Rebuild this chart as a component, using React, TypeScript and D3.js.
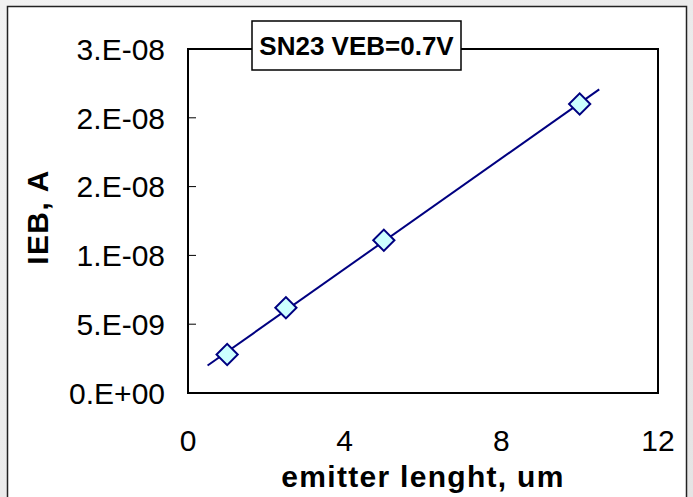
import React from "react";
import * as d3 from "d3";

const lengths = [1, 2.5, 5, 10];
const currents = [2.8e-9, 6.2e-9, 11.1e-9, 21.0e-9];
const yTicks = [0, 5e-9, 1e-8, 1.5e-8, 2e-8, 2.5e-8];
const yTickLabels = ["0.E+00", "5.E-09", "1.E-08", "2.E-08", "2.E-08", "3.E-08"];
const xTicks = [0, 4, 8, 12];
const trendRange = [0.5, 10.5];
const title = "SN23 VEB=0.7V";
const xTitle = "emitter lenght, um";
const yTitle = "IEB, A";

export default function App() {
  const W = 693, H = 497;
  const m = { left: 188, right: 658, top: 49, bottom: 393 };
  const x = d3.scaleLinear().domain([0, 12]).range([m.left, m.right]);
  const y = d3.scaleLinear().domain([0, 2.5e-8]).range([m.bottom, m.top]);

  // linear regression trendline
  const mx = d3.mean(lengths)!;
  const my = d3.mean(currents)!;
  const sxy = d3.sum(lengths.map((v, i) => (v - mx) * (currents[i] - my)));
  const sxx = d3.sum(lengths.map((v) => (v - mx) ** 2));
  const slope = sxy / sxx;
  const icpt = my - slope * mx;
  const trend = trendRange.map((v) => [v, icpt + slope * v] as [number, number]);
  const line = d3.line<[number, number]>().x((d) => x(d[0])).y((d) => y(d[1]));

  const font = "'Liberation Sans', Arial, sans-serif";
  const diamond = d3.symbol().type(d3.symbolSquare).size(15 * 15);

  return (
    <svg width={W} height={H} style={{ position: "absolute", left: 0, top: 0 }}>
      <defs>
        <linearGradient id="bg" x1="0" y1="0" x2="1" y2="1">
          <stop offset="0" stopColor="#f2f2f2" />
          <stop offset="1" stopColor="#e4e4e4" />
        </linearGradient>
      </defs>
      <rect x={0} y={0} width={W} height={H} fill="url(#bg)" />
      <rect x={7.5} y={6.5} width={679} height={H + 10} fill="#fff" stroke="#222" strokeWidth={1.5} />
      <rect x={m.left} y={m.top} width={m.right - m.left} height={m.bottom - m.top} fill="none" stroke="#000" strokeWidth={2} />
      {yTicks.map((v, i) => (
        <g key={i}>
          {i > 0 && i < yTicks.length - 1 && (
            <line x1={m.left} x2={m.left + 8} y1={y(v)} y2={y(v)} stroke="#000" strokeWidth={1} />
          )}
          <text x={165} y={y(v)} dy="0.36em" textAnchor="end" fontFamily={font} fontSize={30}>
            {yTickLabels[i]}
          </text>
        </g>
      ))}
      {xTicks.map((v, i) => (
        <text key={i} x={x(v)} y={451} textAnchor="middle" fontFamily={font} fontSize={30}>
          {v}
        </text>
      ))}
      <path d={line(trend)!} fill="none" stroke="#000080" strokeWidth={2} />
      {lengths.map((v, i) => (
        <path
          key={i}
          d={diamond()!}
          transform={`translate(${x(v)},${y(currents[i])}) rotate(45)`}
          fill="#ccffff"
          stroke="#000080"
          strokeWidth={2}
        />
      ))}
      <text x={(m.left + m.right) / 2} y={487} textAnchor="middle" fontFamily={font} fontSize={30} fontWeight="bold" letterSpacing={1.3}>
        {xTitle}
      </text>
      <text
        transform={`translate(48,217) rotate(-90)`}
        textAnchor="middle"
        fontFamily={font}
        fontSize={30}
        fontWeight="bold"
        letterSpacing={1.4}
      >
        {yTitle}
      </text>
      <rect x={252} y={21} width={209} height={49} fill="#fff" stroke="#000" strokeWidth={1.5} />
      <text x={356.5} y={45.5} dy="0.36em" textAnchor="middle" fontFamily={font} fontSize={26} fontWeight="bold">
        {title}
      </text>
    </svg>
  );
}
